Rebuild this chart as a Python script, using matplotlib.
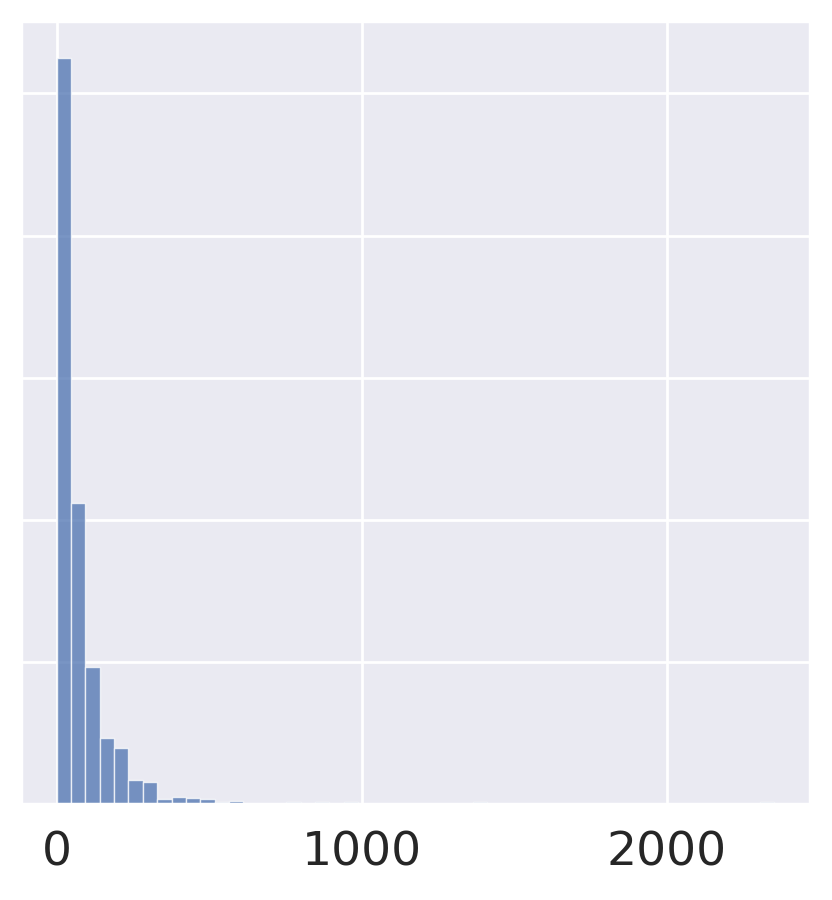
import numpy as np
import matplotlib
matplotlib.use('Agg')
import matplotlib.pyplot as plt
import seaborn as sns

sns.set_theme(style='darkgrid')

# histogram: 50 equal bins from 0 to the max value
bin_min = 0
bin_max = 2353
counts = [525, 212, 96, 46, 39, 17, 15, 3, 5, 4,
          3, 1, 2, 0, 0, 0, 1, 0, 1, 0,
          1, 0, 0, 0, 0, 0, 0, 0, 0, 1,
          0, 0, 0, 0, 0, 0, 0, 0, 0, 0,
          0, 0, 0, 0, 0, 0, 0, 0, 0, 1]
x_ticks = [0, 1000, 2000]

edges = np.linspace(bin_min, bin_max, len(counts) + 1)
widths = np.diff(edges)

fig, ax = plt.subplots(figsize=(4.16, 4.5), dpi=200)
fig.subplots_adjust(left=0.025, right=0.974, top=0.977, bottom=0.107)

ax.bar(edges[:-1], counts, width=widths, align='edge',
       color='#4c72b0', alpha=0.75, edgecolor='white', linewidth=0.5)

ax.set_xticks(x_ticks)
ax.set_xticklabels([str(t) for t in x_ticks], fontsize=17)
ax.set_yticks([0, 100, 200, 300, 400, 500])
ax.set_yticklabels([])
ax.tick_params(axis='y', length=0)
ax.grid(linewidth=1.0)
ax.set_xlabel('')
ax.set_ylabel('')
ax.margins(x=0.05, y=0.05)
ax.set_ylim(0, max(counts) * 1.05)

fig.savefig('out.png', dpi=200)
